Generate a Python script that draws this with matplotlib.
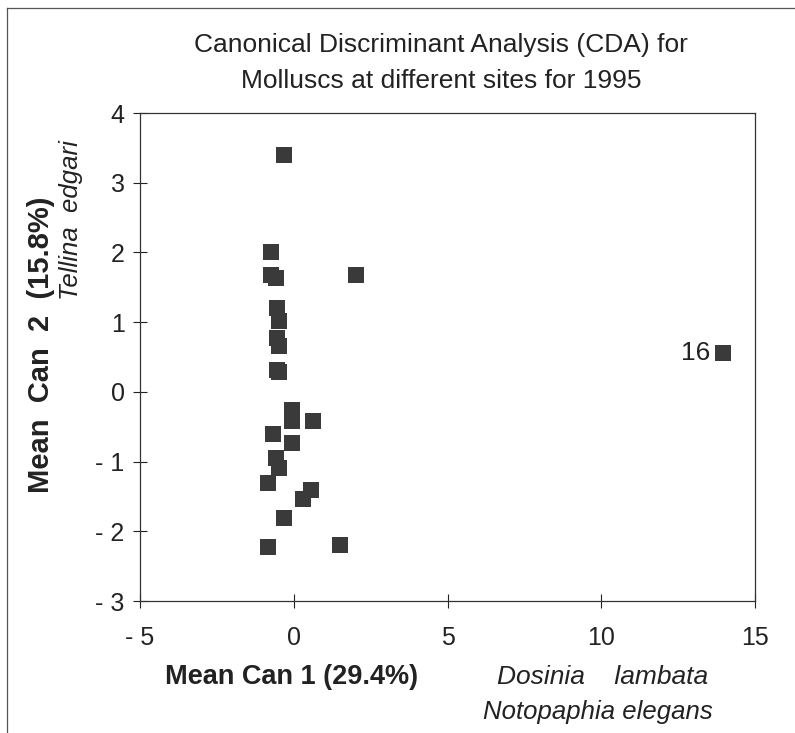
import numpy as np
import matplotlib
matplotlib.use("Agg")
import matplotlib.pyplot as plt
from matplotlib.lines import Line2D

plt.rcParams["font.family"] = ["Liberation Sans", "DejaVu Sans"]

# mean canonical scores per site
can1 = [-0.31, -0.75, -0.75, -0.58, 2.02, -0.55, -0.47, -0.55, -0.47, -0.55, -0.47,
        13.96, -0.05, -0.05, 0.64, -0.67, -0.05, -0.58, -0.47, -0.83, 0.55, 0.31,
        -0.31, -0.83, 1.50]
can2 = [3.40, 2.01, 1.67, 1.63, 1.67, 1.21, 1.02, 0.78, 0.66, 0.32, 0.29,
        0.56, -0.26, -0.42, -0.42, -0.61, -0.73, -0.95, -1.09, -1.30, -1.41, -1.53,
        -1.81, -2.23, -2.19]
site_label = "16"
label_index = 11

xticks = [-5, 0, 5, 10, 15]
xticklabels = ["- 5", "0", "5", "10", "15"]
yticks = [-3, -2, -1, 0, 1, 2, 3, 4]
yticklabels = ["- 3", "- 2", "- 1", "0", "1", "2", "3", "4"]

fig = plt.figure(figsize=(7.95, 7.33), dpi=100)
ax = fig.add_axes([0.1761, 0.180, 0.7736, 0.6658])

ax.scatter(can1, can2, marker="s", s=145, color="#3a3a3a", linewidths=0, zorder=3)
ax.annotate(site_label, (can1[label_index], can2[label_index]), xytext=(-9, 0),
            textcoords="offset points", ha="right", va="center", fontsize=19, color="#222222")

ax.set_xlim(-5, 15)
ax.set_ylim(-3, 4)
ax.set_xticks(xticks)
ax.set_xticklabels(xticklabels)
ax.set_yticks(yticks)
ax.set_yticklabels(yticklabels)
ax.tick_params(direction="inout", length=10, width=0.8, labelsize=18, colors="#222222", pad=6)
ax.tick_params(axis="x", pad=13)
for sp in ax.spines.values():
    sp.set_linewidth(0.9)
    sp.set_color("#333333")

fig.text(0.555, 0.938, "Canonical Discriminant Analysis (CDA) for", ha="center", va="center",
         fontsize=19, color="#222222")
fig.text(0.555, 0.890, "Molluscs at different sites for 1995", ha="center", va="center",
         fontsize=19, color="#222222")

# axis titles
fig.text(0.051, 0.530, "Mean  Can  2  (15.8%)", rotation=90, ha="center", va="center",
         fontsize=21, fontweight="bold", color="#222222")
fig.text(0.089, 0.700, "Tellina  edgari", rotation=90, ha="center", va="center",
         fontsize=18.5, style="italic", color="#222222")
fig.text(0.367, 0.076, "Mean Can 1 (29.4%)", ha="center", va="center",
         fontsize=19.5, fontweight="bold", color="#222222")
fig.text(0.758, 0.076, "Dosinia    lambata", ha="center", va="center",
         fontsize=19, style="italic", color="#222222")
fig.text(0.752, 0.028, "Notopaphia elegans", ha="center", va="center",
         fontsize=18.5, style="italic", color="#222222")

# scanned page frame
fig.add_artist(Line2D([0.009, 0.009], [0.0, 0.989], transform=fig.transFigure, color="#555555", lw=0.9))
fig.add_artist(Line2D([0.009, 1.0], [0.989, 0.989], transform=fig.transFigure, color="#555555", lw=0.9))

fig.savefig("out.png", dpi=100)
